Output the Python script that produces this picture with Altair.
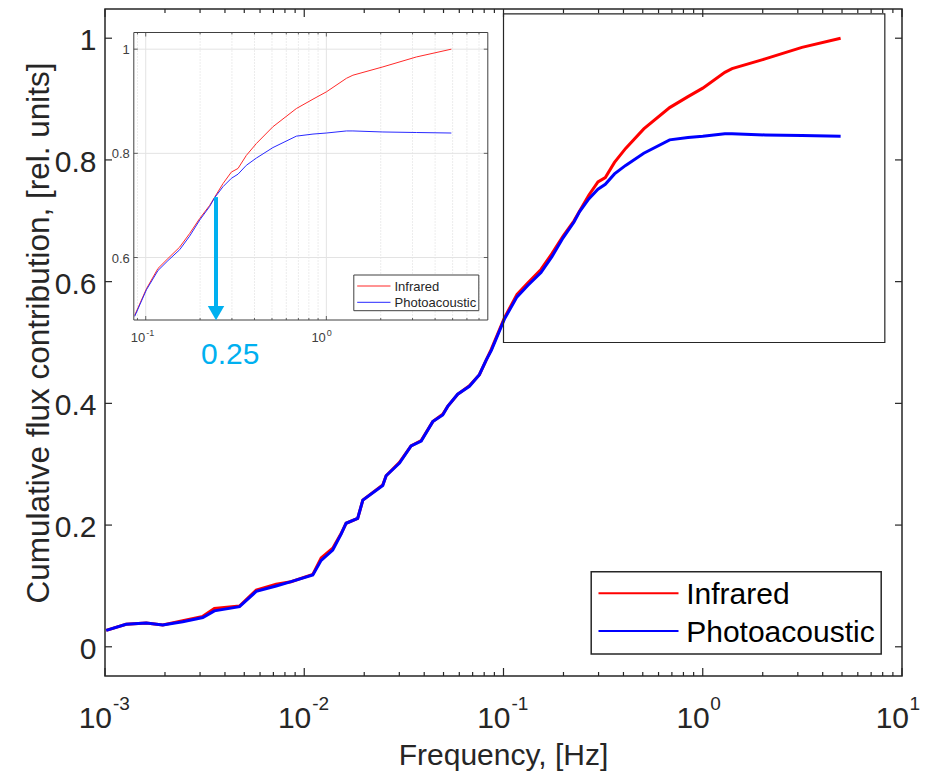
import altair as alt
import pandas as pd

FONT = "Liberation Sans"
TXT = "#262626"

# ---------------- data ----------------
freq = [0.001014, 0.001276, 0.001611, 0.001950, 0.002455, 0.003097, 0.003540,
        0.004732, 0.005741, 0.007228, 0.008590, 0.01104, 0.01216, 0.01390,
        0.01531, 0.01622, 0.01854, 0.01968, 0.02477, 0.02576, 0.03006, 0.03436,
        0.03864, 0.04416, 0.04955, 0.05248, 0.05888, 0.06745, 0.07568, 0.08185,
        0.08690, 0.1009, 0.1169, 0.1327, 0.1542, 0.1750, 0.1991, 0.2259, 0.2410,
        0.2679, 0.2979, 0.3243, 0.3606, 0.4102, 0.5058, 0.6823, 0.8433, 1.0,
        1.291, 1.403, 2.056, 3.148, 4.920]
infrared = [0.027, 0.037, 0.039, 0.036, 0.043, 0.050, 0.063,
            0.067, 0.093, 0.103, 0.107, 0.119, 0.146, 0.162,
            0.186, 0.203, 0.211, 0.241, 0.266, 0.281, 0.303, 0.330,
            0.339, 0.370, 0.382, 0.395, 0.415, 0.429, 0.447, 0.471,
            0.489, 0.540, 0.579, 0.598, 0.620, 0.646, 0.675, 0.700, 0.716,
            0.742, 0.764, 0.771, 0.796, 0.819, 0.851, 0.886, 0.904, 0.918,
            0.944, 0.950, 0.966, 0.985, 1.000]
photoacoustic = [0.027, 0.037, 0.039, 0.036, 0.041, 0.048, 0.059,
                 0.066, 0.091, 0.100, 0.107, 0.118, 0.142, 0.159,
                 0.185, 0.203, 0.211, 0.241, 0.265, 0.281, 0.302, 0.330,
                 0.338, 0.370, 0.381, 0.395, 0.415, 0.428, 0.447, 0.471,
                 0.487, 0.538, 0.575, 0.594, 0.615, 0.641, 0.672, 0.698, 0.715,
                 0.736, 0.752, 0.760, 0.777, 0.791, 0.811, 0.833, 0.837, 0.839,
                 0.843, 0.843, 0.841, 0.840, 0.839]
series_names = ["Infrared", "Photoacoustic"]
series_colors = ["#ff0000", "#0000ff"]

# main axes ticks / labels
main_x_major = [0.001, 0.01, 0.1, 1, 10]
main_x_minor = [m * 10.0 ** k for k in range(-3, 1) for m in range(2, 10)]
main_x_lab_neg = [0.001, 0.01, 0.1]
main_x_exp_neg = ["-3", "-2", "-1"]
main_x_lab_pos = [1, 10]
main_x_exp_pos = ["0", "1"]
main_y_ticks = [0, 0.2, 0.4, 0.6, 0.8, 1.0]
main_y_labels = ["0", "0.2", "0.4", "0.6", "0.8", "1"]

# inset ticks / labels
inset_x_major = [0.1, 1]
inset_x_minor = [0.09] + [m * 0.1 for m in range(2, 10)] + [2, 3, 4, 5, 6, 7]
inset_x_exp = ["-1", "0"]
inset_y_ticks = [0.6, 0.8, 1.0]
inset_y_labels = ["0.6", "0.8", "1"]

# zoom box in main axes, inset limits
zoom_box = {"x1": [0.1], "x2": [8.2], "y1": [0.5], "y2": [1.04]}
inset_xlim = [0.0859, 7.83]
inset_ylim = [0.48, 1.032]
arrow_f = 0.245
arrow_y = [0.716, 0.50]
arrow_tip_y = 0.493
arrow_label = "0.25"

# ---------------- geometry ----------------
W, H = 797, 667
X_MAIN = alt.Scale(type="log", domain=[0.001, 10], nice=False)
Y_MAIN = alt.Scale(domain=[-0.048, 1.048], nice=False, zero=False)
IN_L, IN_R, IN_T, IN_B = 28.8, 382.8, 23.5, 311
X_IN = alt.Scale(type="log", domain=inset_xlim, range=[IN_L, IN_R], nice=False)
Y_IN = alt.Scale(domain=inset_ylim, range=[IN_B, IN_T], nice=False, zero=False)

df = pd.DataFrame({"f": freq, "ir": infrared, "pa": photoacoustic})
df_in = df[df["f"] >= inset_xlim[0]]
one = pd.DataFrame({"a": [0]})


def xm(field):
    return alt.X(field, scale=X_MAIN, axis=None)


def ym(field):
    return alt.Y(field, scale=Y_MAIN, axis=None)


def xi(field):
    return alt.X(field, scale=X_IN, axis=None)


def yi(field):
    return alt.Y(field, scale=Y_IN, axis=None)


# ---------------- main layers ----------------
main_layers = []
main_layers.append(alt.Chart(df).mark_line(color=series_colors[0], strokeWidth=3)
                   .encode(x=xm("f:Q"), y=ym("ir:Q")))
main_layers.append(alt.Chart(df).mark_line(color=series_colors[1], strokeWidth=3)
                   .encode(x=xm("f:Q"), y=ym("pa:Q")))
main_layers.append(alt.Chart(pd.DataFrame(zoom_box)).mark_rect(fillOpacity=0, stroke=TXT, strokeWidth=1.2)
                   .encode(x=xm("x1:Q"), x2="x2:Q", y=ym("y1:Q"), y2="y2:Q"))

dmaj = pd.DataFrame({"v": main_x_major})
dmin = pd.DataFrame({"v": main_x_minor})
dy = pd.DataFrame({"v": main_y_ticks, "lab": main_y_labels})
for d, ln in ((dmaj, 8), (dmin, 4)):
    main_layers.append(alt.Chart(d).mark_rule(color=TXT, strokeWidth=1.2)
                       .encode(x=xm("v:Q"), y=alt.value(H), y2=alt.value(H - ln)))
    main_layers.append(alt.Chart(d).mark_rule(color=TXT, strokeWidth=1.2)
                       .encode(x=xm("v:Q"), y=alt.value(0), y2=alt.value(ln)))
main_layers.append(alt.Chart(dy).mark_rule(color=TXT, strokeWidth=1.2)
                   .encode(y=ym("v:Q"), x=alt.value(0), x2=alt.value(7)))
main_layers.append(alt.Chart(dy).mark_rule(color=TXT, strokeWidth=1.2)
                   .encode(y=ym("v:Q"), x=alt.value(W), x2=alt.value(W - 7)))
main_layers.append(alt.Chart(dy).mark_text(align="right", baseline="middle", fontSize=30, font=FONT,
                                           color=TXT, dy=3)
                   .encode(y=ym("v:Q"), x=alt.value(-8.5), text="lab:N"))

for vals, exps, dx10, dxe in ((main_x_lab_neg, main_x_exp_neg, 7, 8), (main_x_lab_pos, main_x_exp_pos, 7, 7.5)):
    d = pd.DataFrame({"v": vals, "b": ["10"] * len(vals), "e": exps})
    main_layers.append(alt.Chart(d).mark_text(align="right", baseline="alphabetic", fontSize=30,
                                              font=FONT, color=TXT, dx=dx10)
                       .encode(x=xm("v:Q"), y=alt.value(719), text="b:N"))
    main_layers.append(alt.Chart(d).mark_text(align="left", baseline="alphabetic", fontSize=19,
                                              font=FONT, color=TXT, dx=dxe)
                       .encode(x=xm("v:Q"), y=alt.value(701), text="e:N"))

main_layers.append(alt.Chart(one).mark_text(text="Frequency, [Hz]", align="center", baseline="alphabetic",
                                            fontSize=30, font=FONT, color=TXT)
                   .encode(x=alt.value(W / 2), y=alt.value(756)))
main_layers.append(alt.Chart(one).mark_text(text="Cumulative flux contribution, [rel. units]", angle=270,
                                            align="center", baseline="middle", fontSize=31.5, font=FONT,
                                            color=TXT)
                   .encode(x=alt.value(-65.5), y=alt.value(324)))

# main legend
main_layers.append(alt.Chart(one).mark_rect(fill="white", stroke=TXT, strokeWidth=1.5)
                   .encode(x=alt.value(486.2), x2=alt.value(776.2), y=alt.value(562.7), y2=alt.value(645)))
for i, yy in enumerate((584.3, 622)):
    main_layers.append(alt.Chart(one).mark_rule(color=series_colors[i], strokeWidth=2)
                       .encode(x=alt.value(493.5), x2=alt.value(573.5), y=alt.value(yy)))
    main_layers.append(alt.Chart(one).mark_text(text=series_names[i], align="left", baseline="middle",
                                                fontSize=30, font=FONT, color="#000000", dy=2)
                       .encode(x=alt.value(581.2), y=alt.value(yy)))

# ---------------- inset layers ----------------
inset_layers = []
frame = pd.DataFrame({"x1": [inset_xlim[0]], "x2": [inset_xlim[1]], "y1": [inset_ylim[0]], "y2": [inset_ylim[1]]})
inset_layers.append(alt.Chart(frame).mark_rect(fill="white")
                    .encode(x=xi("x1:Q"), x2="x2:Q", y=yi("y1:Q"), y2="y2:Q"))
imaj = pd.DataFrame({"v": inset_x_major, "b": ["10"] * len(inset_x_major), "e": inset_x_exp})
imin = pd.DataFrame({"v": inset_x_minor})
iy = pd.DataFrame({"v": inset_y_ticks, "lab": inset_y_labels})
inset_layers.append(alt.Chart(imin).mark_rule(color="#d9d9d9", strokeWidth=1, strokeDash=[1, 2])
                    .encode(x=xi("v:Q"), y=alt.value(IN_T), y2=alt.value(IN_B)))
inset_layers.append(alt.Chart(imaj).mark_rule(color="#e3e3e3", strokeWidth=1)
                    .encode(x=xi("v:Q"), y=alt.value(IN_T), y2=alt.value(IN_B)))
inset_layers.append(alt.Chart(iy).mark_rule(color="#e3e3e3", strokeWidth=1)
                    .encode(y=yi("v:Q"), x=alt.value(IN_L), x2=alt.value(IN_R)))
for d, ln in ((imaj, 4), (imin, 2)):
    inset_layers.append(alt.Chart(d).mark_rule(color="#404040", strokeWidth=0.8)
                        .encode(x=xi("v:Q"), y=alt.value(IN_B), y2=alt.value(IN_B - ln)))
    inset_layers.append(alt.Chart(d).mark_rule(color="#404040", strokeWidth=0.8)
                        .encode(x=xi("v:Q"), y=alt.value(IN_T), y2=alt.value(IN_T + ln)))
inset_layers.append(alt.Chart(iy).mark_rule(color="#404040", strokeWidth=0.8)
                    .encode(y=yi("v:Q"), x=alt.value(IN_L), x2=alt.value(IN_L + 4)))
inset_layers.append(alt.Chart(iy).mark_rule(color="#404040", strokeWidth=0.8)
                    .encode(y=yi("v:Q"), x=alt.value(IN_R), x2=alt.value(IN_R - 4)))
inset_layers.append(alt.Chart(iy).mark_text(align="right", baseline="middle", fontSize=13, font=FONT,
                                            color="#404040", dy=1)
                    .encode(y=yi("v:Q"), x=alt.value(IN_L - 4), text="lab:N"))
inset_layers.append(alt.Chart(imaj).mark_text(align="right", baseline="alphabetic", fontSize=13, font=FONT,
                                              color="#404040", dx=-0.5)
                    .encode(x=xi("v:Q"), y=alt.value(333), text="b:N"))
inset_layers.append(alt.Chart(imaj).mark_text(align="left", baseline="alphabetic", fontSize=9, font=FONT,
                                              color="#404040", dx=0.5)
                    .encode(x=xi("v:Q"), y=alt.value(327), text="e:N"))

inset_layers.append(alt.Chart(df_in).mark_line(color="#ff2a2a", strokeWidth=1)
                    .encode(x=xi("f:Q"), y=yi("ir:Q")))
inset_layers.append(alt.Chart(df_in).mark_line(color="#2a2aff", strokeWidth=1)
                    .encode(x=xi("f:Q"), y=yi("pa:Q")))

# inset legend
inset_layers.append(alt.Chart(one).mark_rect(fill="white", stroke="#404040", strokeWidth=1)
                    .encode(x=alt.value(248.8), x2=alt.value(373.8), y=alt.value(266), y2=alt.value(301.7)))
for i, yy in enumerate((277, 293.3)):
    inset_layers.append(alt.Chart(one).mark_rule(color=series_colors[i], strokeWidth=1, opacity=0.85)
                        .encode(x=alt.value(252.2), x2=alt.value(285.5), y=alt.value(yy)))
    inset_layers.append(alt.Chart(one).mark_text(text=series_names[i], align="left", baseline="middle",
                                                 fontSize=13, font=FONT, color="#262626", dy=0.5)
                        .encode(x=alt.value(289.5), y=alt.value(yy)))

inset_layers.append(alt.Chart(frame).mark_rect(fillOpacity=0, stroke="#404040", strokeWidth=1)
                    .encode(x=xi("x1:Q"), x2="x2:Q", y=yi("y1:Q"), y2="y2:Q"))

# arrow annotation
arrow = pd.DataFrame({"f": [arrow_f], "y1": [arrow_y[0]], "y2": [arrow_y[1]], "tip": [arrow_tip_y],
                      "lab": [arrow_label]})
inset_layers.append(alt.Chart(arrow).mark_rule(color="#00b0f0", strokeWidth=4)
                    .encode(x=xi("f:Q"), y=yi("y1:Q"), y2="y2:Q"))
inset_layers.append(alt.Chart(arrow).mark_point(shape="triangle-down", filled=True, color="#00b0f0",
                                                size=270, opacity=1)
                    .encode(x=xi("f:Q"), y=yi("tip:Q")))
inset_layers.append(alt.Chart(arrow).mark_text(align="left", baseline="alphabetic", fontSize=30, font=FONT,
                                               color="#00b0f0", dx=-15)
                    .encode(x=xi("f:Q"), y=alt.value(355), text="lab:N"))

main = alt.layer(*main_layers)
inset = alt.layer(*inset_layers)

chart = (
    alt.layer(main, inset)
    .resolve_scale(x="independent", y="independent")
    .properties(width=W, height=H,
                padding={"left": 97, "top": 1, "right": 19, "bottom": 98},
                autosize=alt.AutoSizeParams(type="none"))
    .configure_view(stroke=TXT, strokeWidth=1.5)
)

chart.save("out.html", embed_options={"renderer": "svg", "actions": False})
